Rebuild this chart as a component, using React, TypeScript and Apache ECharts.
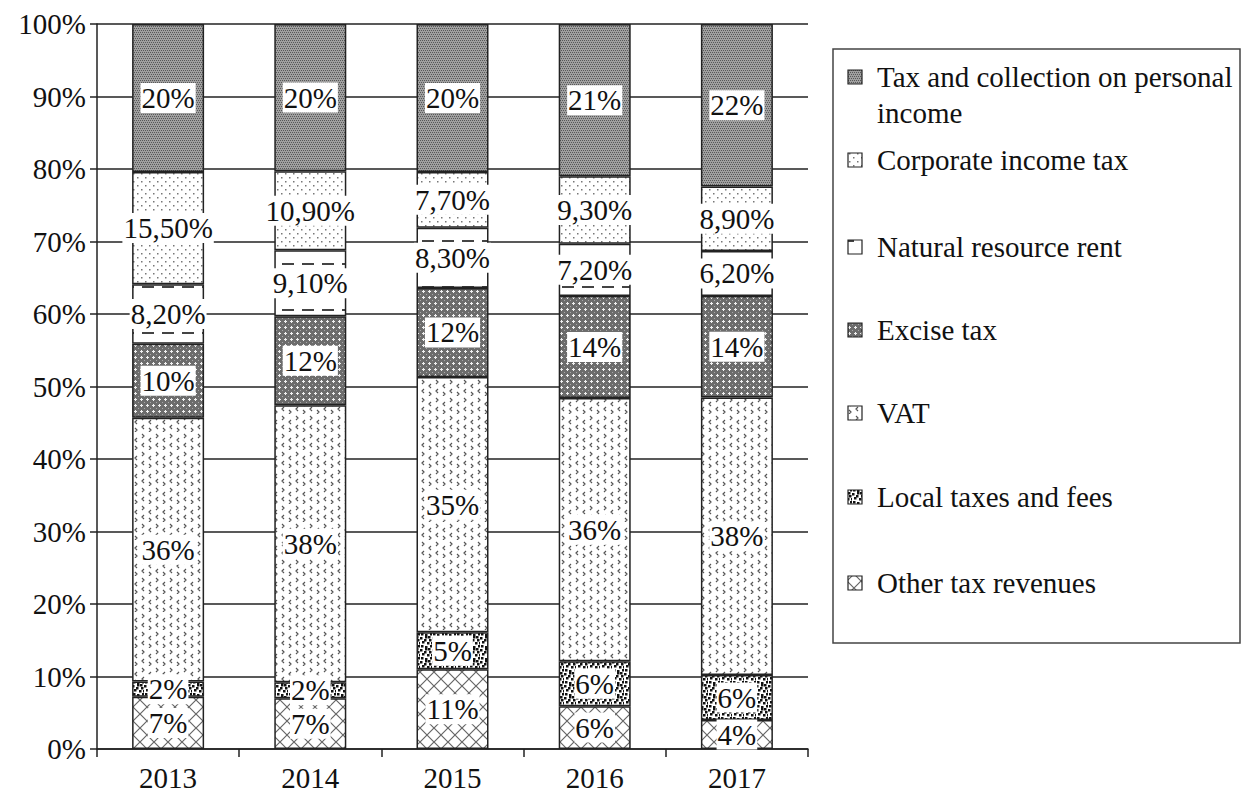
import React, { useEffect, useRef } from "react";
import * as echarts from "echarts";

const years = ["2013", "2014", "2015", "2016", "2017"];
const otherTax = [7.2, 7.0, 11.0, 5.9, 4.0];
const localTaxes = [2.1, 2.2, 5.1, 6.2, 6.2];
const vat = [36.4, 38.2, 35.2, 36.3, 38.3];
const excise = [10.2, 12.3, 12.3, 14.1, 14.0];
const naturalRent = [8.2, 9.1, 8.3, 7.2, 6.2];
const corporateTax = [15.5, 10.9, 7.7, 9.3, 8.9];
const personalTax = [20.4, 20.3, 20.4, 21.0, 22.4];
const yTicks = [0, 10, 20, 30, 40, 50, 60, 70, 80, 90, 100];

const seriesNames = [
  "Other tax revenues",
  "Local taxes and fees",
  "VAT",
  "Excise tax",
  "Natural resource rent",
  "Corporate income tax",
  "Tax and collection on personal\nincome",
];
const seriesData = [otherTax, localTaxes, vat, excise, naturalRent, corporateTax, personalTax];
const decimalSeries = [false, false, false, false, true, true, false];

const FONT = "Liberation Serif";
const FS = 29;

function tile(w: number, h: number, draw: (c: CanvasRenderingContext2D) => void) {
  const cv = document.createElement("canvas");
  cv.width = w;
  cv.height = h;
  const ctx = cv.getContext("2d") as CanvasRenderingContext2D;
  draw(ctx);
  return { image: cv, repeat: "repeat" } as any;
}

function makePatterns() {
  const other = tile(14, 14, (c) => {
    c.fillStyle = "#fff";
    c.fillRect(0, 0, 14, 14);
    c.strokeStyle = "#666";
    c.lineWidth = 1.2;
    c.beginPath();
    c.moveTo(0, 0);
    c.lineTo(14, 14);
    c.moveTo(14, 0);
    c.lineTo(0, 14);
    c.stroke();
  });
  const local = tile(12, 12, (c) => {
    c.fillStyle = "#fff";
    c.fillRect(0, 0, 12, 12);
    c.fillStyle = "#111";
    const pts = [
      [0, 1], [5, 0], [9, 3], [2, 5], [7, 6], [10, 9], [1, 9], [5, 10], [4, 3], [8, 0], [11, 6],
    ];
    pts.forEach(([x, y]) => c.fillRect(x, y, 2.5, 2.5));
  });
  const vatP = tile(14, 18, (c) => {
    c.fillStyle = "#fff";
    c.fillRect(0, 0, 14, 18);
    c.strokeStyle = "#555";
    c.lineWidth = 1.2;
    c.beginPath();
    c.moveTo(2, 2);
    c.lineTo(4, 4);
    c.lineTo(2, 6);
    c.moveTo(11, 6);
    c.lineTo(9, 8);
    c.lineTo(11, 10);
    c.moveTo(4, 11);
    c.lineTo(2, 13);
    c.lineTo(4, 15);
    c.moveTo(9, 14);
    c.lineTo(11, 16);
    c.lineTo(9, 18);
    c.stroke();
  });
  const exciseP = tile(6, 6, (c) => {
    c.fillStyle = "#6c6c6c";
    c.fillRect(0, 0, 6, 6);
    c.fillStyle = "#f0f0f0";
    c.fillRect(3, 2, 1, 3);
    c.fillRect(2, 3, 3, 1);
    c.fillStyle = "#a8a8a8";
    c.fillRect(0, 0, 1, 1);
  });
  const natural = tile(20, 23, (c) => {
    c.fillStyle = "#fff";
    c.fillRect(0, 0, 20, 23);
    c.fillStyle = "#444";
    c.fillRect(2, 10, 12, 2);
  });
  const corporate = tile(8, 8, (c) => {
    c.fillStyle = "#fff";
    c.fillRect(0, 0, 8, 8);
    c.fillStyle = "#777";
    c.fillRect(1, 1, 1.5, 1.5);
    c.fillRect(5, 5, 1.5, 1.5);
  });
  const personal = tile(4, 4, (c) => {
    c.fillStyle = "#a0a0a0";
    c.fillRect(0, 0, 4, 4);
    c.fillStyle = "#585858";
    c.fillRect(0, 0, 1, 1);
    c.fillRect(2, 0, 1, 1);
    c.fillRect(1, 2, 1, 1);
    c.fillRect(3, 2, 1, 1);
  });
  return [other, local, vatP, exciseP, natural, corporate, personal];
}

export default function App() {
  const ref = useRef<HTMLDivElement>(null);
  useEffect(() => {
    if (!ref.current) return;
    const chart = echarts.init(ref.current, undefined, { renderer: "svg" });
    const patterns = makePatterns();

    const series = seriesData.map((data, i) => ({
      name: seriesNames[i],
      type: "bar",
      stack: "total",
      barWidth: 72,
      data,
      itemStyle: { color: patterns[i], borderColor: "#222", borderWidth: 1.5 },
      label: {
        show: true,
        position: "inside",
        color: "#111",
        fontFamily: FONT,
        fontSize: FS,
        lineHeight: 30,
        backgroundColor: "#fff",
        padding: [0, 1, 0, 1],
        formatter: (p: any) =>
          decimalSeries[i]
            ? (p.value as number).toFixed(2).replace(".", ",") + "%"
            : Math.round(p.value as number) + "%",
      },
    }));

    const legendCenters = [77, 160, 247, 330, 413, 497, 583];
    const legendEls: any[] = [
      {
        type: "rect",
        shape: { x: 833, y: 49, width: 407, height: 594 },
        style: { fill: "#fff", stroke: "#444", lineWidth: 1.5 },
        z: 10,
      },
    ];
    for (let k = 0; k < 7; k++) {
      const i = 6 - k;
      const cy = legendCenters[k];
      legendEls.push({
        type: "rect",
        shape: { x: 848, y: cy - 7, width: 14, height: 14 },
        style: { fill: patterns[i], stroke: "#222", lineWidth: 1.2 },
        z: 11,
      });
      legendEls.push({
        type: "text",
        x: 877,
        y: cy - 18,
        style: {
          text: seriesNames[i],
          fontFamily: FONT,
          fontSize: FS,
          lineHeight: 36,
          fill: "#111",
          verticalAlign: "top",
          align: "left",
        },
        z: 11,
      });
    }

    chart.setOption({
      animation: false,
      textStyle: { fontFamily: FONT },
      grid: { left: 97, right: 438, top: 24, bottom: 52, containLabel: false },
      xAxis: {
        type: "category",
        data: years,
        axisLine: { show: true, lineStyle: { color: "#222", width: 1.5 } },
        axisTick: { show: true, length: 8, lineStyle: { color: "#222", width: 1.5 } },
        axisLabel: { color: "#111", fontSize: FS, fontFamily: FONT, margin: 14 },
      },
      yAxis: {
        type: "value",
        min: yTicks[0],
        max: yTicks[yTicks.length - 1],
        interval: 10,
        axisLine: { show: true, lineStyle: { color: "#222", width: 1.5 } },
        axisTick: { show: true, length: 7, lineStyle: { color: "#222", width: 1.5 } },
        axisLabel: { color: "#111", fontSize: FS, fontFamily: FONT, margin: 11, formatter: "{value}%" },
        splitLine: { show: true, lineStyle: { color: "#222", width: 1.5 } },
      },
      graphic: legendEls,
      series,
    });
    return () => chart.dispose();
  }, []);
  return (
    <div
      ref={ref}
      style={{ position: "absolute", left: 0, top: 0, width: 1246, height: 801, background: "#fff" }}
    />
  );
}
